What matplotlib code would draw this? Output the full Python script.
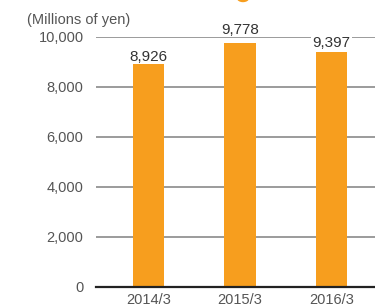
import matplotlib
matplotlib.use("Agg")
import matplotlib.pyplot as plt
from matplotlib.patches import Ellipse

# data
years = ["2014/3", "2015/3", "2016/3"]
values = [8926, 9778, 9397]
yticks = [0, 2000, 4000, 6000, 8000, 10000]

# gap (px) between bar top and its value label, as placed in the original
label_gaps = [3, 9, 5]

bar_color = "#F79E1E"
plt.rcParams["font.family"] = ["Liberation Sans", "DejaVu Sans"]

fig = plt.figure(figsize=(3.75, 3.07), dpi=100)
ax = fig.add_axes([96 / 375, 20 / 307, 1 - 96 / 375, 250 / 307])

x = list(range(len(years)))
ax.bar(x, values, width=0.34, color=bar_color, zorder=3)

# gridlines
for t in yticks[1:]:
    ax.axhline(t, color="#8a8a8a", lw=1.2, zorder=1)
ax.axhline(0, color="#222222", lw=1.6, zorder=4, clip_on=False)

ax.set_xlim(-0.574, 2.475)
ax.set_ylim(0, 10000)

# value labels; a white box hides the gridline only where the text crosses it
top_px = ax.transData.transform((0, yticks[-1]))[1]
for xi, v, g in zip(x, values, label_gaps):
    base_px = ax.transData.transform((0, v))[1] + g
    crosses = base_px - 2 < top_px < base_px + 12
    box = dict(boxstyle="square,pad=0.08", fc="white", ec="none") if crosses else None
    ax.annotate(f"{v:,}", (xi, v), xytext=(0, g), textcoords="offset pixels",
                ha="center", va="baseline", fontsize=11, color="#333333",
                bbox=box, zorder=5, annotation_clip=False)

ax.set_xticks(x)
ax.set_xticklabels(years)
ax.set_yticks(yticks)
ax.set_yticklabels([f"{t:,}" for t in yticks])
ax.tick_params(axis="both", length=0, labelsize=10.5, colors="#555555")
ax.tick_params(axis="y", pad=9)
ax.tick_params(axis="x", pad=4)
for s in ax.spines.values():
    s.set_visible(False)

fig.text(27 / 375, 1 - 20 / 307, "(Millions of yen)", fontsize=10.5,
         color="#555555", ha="left", va="center")

# cropped piece of the title above the chart
fig.patches.append(Ellipse((243 / 375, 1 + 2 / 307), 11 / 375, 7 / 307,
                           transform=fig.transFigure, color=bar_color))

fig.savefig("out.png", dpi=100)
